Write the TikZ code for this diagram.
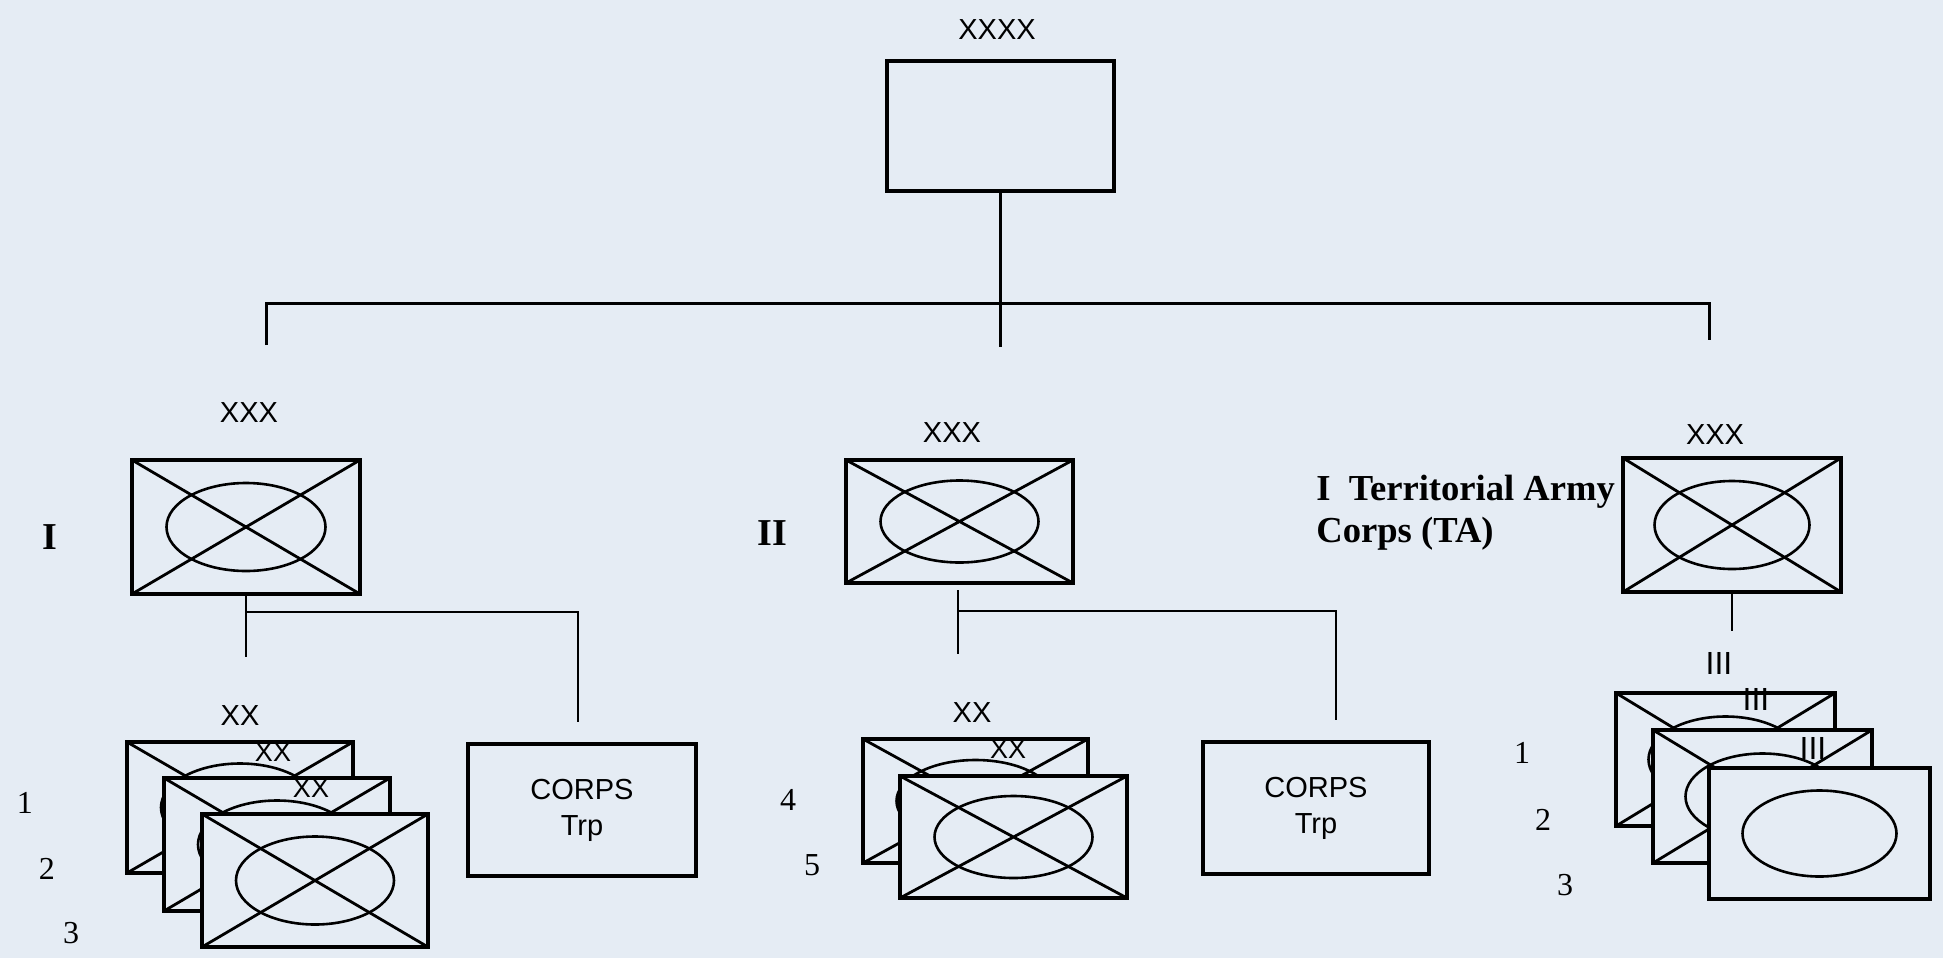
\documentclass[tikz,border=0pt]{standalone}
\usepackage{fontspec}
\setmainfont{Liberation Serif}
\newfontfamily\sanslab{Liberation Sans}
\definecolor{bg}{RGB}{229,236,244}
\tikzset{
  frame/.style={draw, line width=1.6pt, fill=bg, inner sep=0pt, outer sep=0pt},
  cross/.style={line width=1.4pt},
  oval/.style={line width=1.3pt},
  link/.style={line width=1.1pt},
  bus/.style={line width=1.5pt},
  ech/.style={font=\sanslab\fontsize{14.5}{16}\selectfont, inner sep=0pt},
  echs/.style={font=\sanslab\fontsize{13.5}{15}\selectfont, inner sep=0pt},
  echiii/.style={font=\sanslab\fontsize{16}{18}\selectfont, inner sep=0pt},
  roman/.style={font=\bfseries\fontsize{19}{22}\selectfont, inner sep=0pt},
  tatext/.style={font=\bfseries\fontsize{18.3}{22}\selectfont, inner sep=0pt, anchor=base west},
  num/.style={font=\fontsize{16}{18}\selectfont, inner sep=0pt},
  corps/.style={frame, align=center, font=\sanslab\fontsize{14.5}{18}\selectfont},
}
% name, cx, cy, w, h, rx, ry
\newcommand\armybox[7]{%
  \node[frame, minimum width=#4*0.5pt, minimum height=#5*0.5pt] (#1) at (#2,#3) {};
  \draw[oval] (#1.center) ellipse [x radius=#6*0.5pt, y radius=#7*0.5pt];
  \draw[cross] (#1.north west) -- (#1.south east) (#1.north east) -- (#1.south west);
}
\newcommand\ovalbox[7]{%
  \node[frame, minimum width=#4*0.5pt, minimum height=#5*0.5pt] (#1) at (#2,#3) {};
  \draw[oval] (#1.center) ellipse [x radius=#6*0.5pt, y radius=#7*0.5pt];
}
\begin{document}
\begin{tikzpicture}[x=0.5pt, y=-0.5pt]
\fill[bg] (0,0) rectangle (1943,958);
\useasboundingbox (0,0) rectangle (1943,958);

% top army
\node[ech] (lxxxx) at (997,30) {XXXX};
\node[frame, minimum width=113.5pt, minimum height=65pt] (top) at (1000.5,126) {};
\coordinate (topEnd) at (1000.5,347);
\coordinate (busL) at (266,303);
\coordinate (busR) at (1709,303);
\coordinate (dropL) at (266,345);
\coordinate (dropR) at (1709,340);
\draw[link] (top.south) -- (topEnd);
\draw[bus] (dropL) -- (busL) -- (busR) -- (dropR);

% ---- Corps I ----
\node[ech] (lxxx1) at (249,413) {XXX};
\armybox{cI}{246}{527}{228}{134}{79.5}{44}
\node[roman] (nI) at (50,537) {I};
\coordinate (endI) at (246,657);
\coordinate (jI) at (246,612);
\coordinate (cornI) at (578,612);
\coordinate (tipI) at (578,722);
\draw[link] (cI.south) -- (endI);
\draw[link] (jI) -- (cornI) -- (tipI);

\node[ech] (lxx1) at (240,716) {XX};
\armybox{d1}{240}{807.5}{226}{131}{79}{44}
\node[echs] (ld1) at (273,752) {XX};
\armybox{d2}{277}{844.5}{226}{133}{79}{44}
\node[echs] (ld2) at (311,788) {XX};
\armybox{d3}{315}{880.5}{226}{133}{79}{44}
\node[num] (n1) at (25,803) {1};
\node[num] (n2) at (47,869) {2};
\node[num] (n3) at (71,933) {3};
\node[corps, minimum width=114pt, minimum height=66pt] (ctI) at (582,810) {CORPS\\Trp};

% ---- Corps II ----
\node[ech] (lxxx2) at (952,433) {XXX};
\armybox{cII}{959.5}{521.5}{227}{123}{79}{41}
\node[roman] (nII) at (772,533) {II};
\coordinate (startII) at (958,590);
\coordinate (endII) at (958,654);
\coordinate (jII) at (958,611);
\coordinate (cornII) at (1336,611);
\coordinate (tipII) at (1336,720);
\draw[link] (startII) -- (endII);
\draw[link] (jII) -- (cornII) -- (tipII);

\node[ech] (lxx2) at (972,713) {XX};
\armybox{d4}{975.5}{801}{225}{124}{79}{41}
\node[echs] (ld4) at (1008,749) {XX};
\armybox{d5}{1013.5}{837}{227}{122}{79}{41}
\node[num] (n4) at (788,800) {4};
\node[num] (n5) at (812,865) {5};
\node[corps, minimum width=113pt, minimum height=66pt] (ctII) at (1316,808) {CORPS\\Trp};

% ---- Territorial Army Corps ----
\node[ech] (lxxx3) at (1715,435) {XXX};
\armybox{cTA}{1732}{525}{218}{134}{77.5}{44}
\node[tatext] (ta1) at (1316,500) {I\ \ Territorial Army};
\node[tatext] (ta2) at (1316,542) {Corps (TA)};
\coordinate (endTA) at (1732,631);
\draw[link] (cTA.south) -- (endTA);

\node[echiii] (liii) at (1719,663) {III};
\armybox{r1}{1725.5}{759.5}{219}{133}{77}{43}
\node[echiii] (lr1) at (1756,699) {III};
\armybox{r2}{1762.5}{796.5}{219}{133}{77}{43}
\node[echiii] (lr2) at (1813,748) {III};
\ovalbox{r3}{1819.5}{833.5}{221}{131}{77}{43}
\node[num] (m1) at (1522,753) {1};
\node[num] (m2) at (1543,820) {2};
\node[num] (m3) at (1565,885) {3};
\end{tikzpicture}
\end{document}
